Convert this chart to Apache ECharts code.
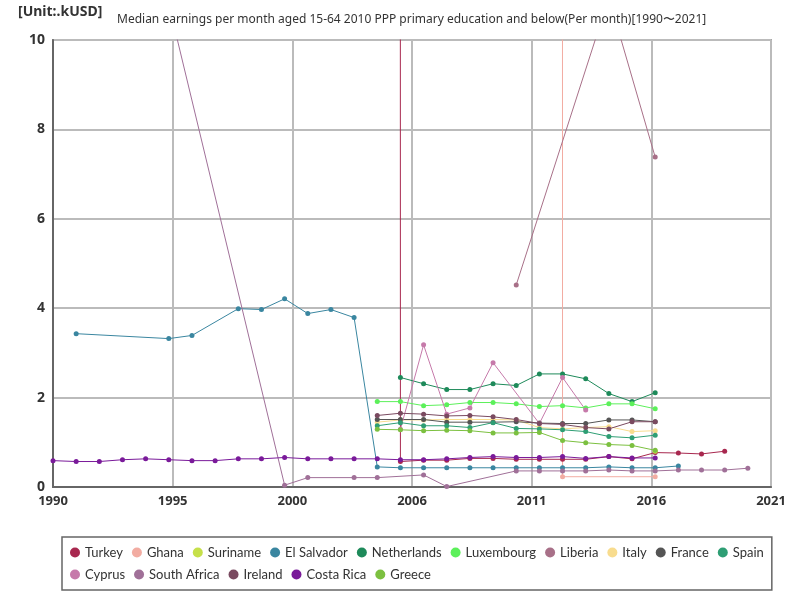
<!DOCTYPE html>
<html>
<head>
<meta charset="utf-8">
<script src="https://cdn.jsdelivr.net/npm/echarts@6/dist/echarts.min.js"></script>
<style>
  html, body { margin: 0; padding: 0; background: #fff; }
  #chart { width: 800px; height: 600px; }
</style>
</head>
<body>
<div id="chart"></div>
<script>
// years / values per country (kUSD per month)
const turkeyYears = [2004, 2005, 2006, 2007, 2008, 2009, 2010, 2011, 2012, 2013, 2014, 2015, 2016, 2017, 2018, 2019];
const turkeyValues = [3000, 0.57, 0.60, 0.60, 0.64, 0.64, 0.62, 0.62, 0.62, 0.62, 0.68, 0.63, 0.77, 0.76, 0.74, 0.80];

const ghanaYears = [2011, 2012, 2016];
const ghanaValues = [3000, 0.23, 0.23];

const surinameYears = [2016];
const surinameValues = [0.80];

const elSalvadorYears = [1991, 1995, 1996, 1998, 1999, 2000, 2001, 2002, 2003, 2004, 2005, 2006, 2007, 2008, 2009, 2010, 2011, 2012, 2013, 2014, 2015, 2016, 2017];
const elSalvadorValues = [3.43, 3.32, 3.39, 3.99, 3.97, 4.21, 3.88, 3.97, 3.79, 0.45, 0.43, 0.43, 0.43, 0.43, 0.43, 0.43, 0.43, 0.43, 0.43, 0.45, 0.43, 0.43, 0.47];

const netherlandsYears = [2005, 2006, 2007, 2008, 2009, 2010, 2011, 2012, 2013, 2014, 2015, 2016];
const netherlandsValues = [2.45, 2.31, 2.18, 2.18, 2.31, 2.27, 2.53, 2.53, 2.42, 2.09, 1.91, 2.11];

const luxembourgYears = [2004, 2005, 2006, 2007, 2008, 2009, 2010, 2011, 2012, 2013, 2014, 2015, 2016];
const luxembourgValues = [1.91, 1.91, 1.82, 1.84, 1.89, 1.89, 1.86, 1.80, 1.82, 1.77, 1.86, 1.86, 1.75];

const liberiaYears = [2010, 2014, 2016];
const liberiaValues = [4.52, 10.95, 7.38];

const italyYears = [2004, 2005, 2006, 2007, 2008, 2009, 2010, 2011, 2012, 2013, 2014, 2015, 2016];
const italyValues = [1.45, 1.50, 1.50, 1.51, 1.51, 1.51, 1.50, 1.33, 1.30, 1.33, 1.35, 1.24, 1.26];

const franceYears = [2004, 2005, 2006, 2007, 2008, 2009, 2010, 2011, 2012, 2013, 2014, 2015, 2016];
const franceValues = [1.51, 1.51, 1.51, 1.45, 1.45, 1.45, 1.46, 1.43, 1.42, 1.42, 1.50, 1.50, 1.46];

const spainYears = [2004, 2005, 2006, 2007, 2008, 2009, 2010, 2011, 2012, 2013, 2014, 2015, 2016];
const spainValues = [1.37, 1.44, 1.37, 1.37, 1.33, 1.44, 1.31, 1.30, 1.28, 1.24, 1.13, 1.10, 1.16];

const cyprusYears = [2005, 2006, 2007, 2008, 2009, 2011, 2012, 2013];
const cyprusValues = [1.29, 3.18, 1.63, 1.77, 2.78, 1.42, 2.45, 1.72];

const southAfricaYears = [1995, 2000, 2001, 2003, 2004, 2006, 2007, 2010, 2011, 2012, 2013, 2014, 2015, 2016, 2017, 2018, 2019, 2020];
const southAfricaValues = [10.8, 0.04, 0.21, 0.21, 0.21, 0.27, 0.01, 0.36, 0.36, 0.36, 0.36, 0.38, 0.36, 0.36, 0.38, 0.38, 0.38, 0.42];

const irelandYears = [2004, 2005, 2006, 2007, 2008, 2009, 2010, 2011, 2012, 2013, 2014, 2015, 2016];
const irelandValues = [1.60, 1.65, 1.63, 1.59, 1.60, 1.57, 1.51, 1.42, 1.40, 1.33, 1.30, 1.46, 1.46];

const costaRicaYears = [1990, 1991, 1992, 1993, 1994, 1995, 1996, 1997, 1998, 1999, 2000, 2001, 2002, 2003, 2004, 2005, 2006, 2007, 2008, 2009, 2010, 2011, 2012, 2013, 2014, 2015, 2016];
const costaRicaValues = [0.59, 0.57, 0.57, 0.61, 0.63, 0.61, 0.59, 0.59, 0.63, 0.63, 0.66, 0.63, 0.63, 0.63, 0.63, 0.61, 0.61, 0.63, 0.66, 0.68, 0.66, 0.66, 0.68, 0.64, 0.68, 0.65, 0.65];

const greeceYears = [2004, 2005, 2006, 2007, 2008, 2009, 2010, 2011, 2012, 2013, 2014, 2015, 2016];
const greeceValues = [1.29, 1.28, 1.26, 1.27, 1.26, 1.21, 1.21, 1.22, 1.04, 0.99, 0.95, 0.93, 0.82];

const yTicks = [0, 2, 4, 6, 8, 10];

const seriesList = [
    { name: 'Turkey', years: turkeyYears, values: turkeyValues, color: '#a8284f' },
    { name: 'Ghana', years: ghanaYears, values: ghanaValues, color: '#f2aca2' },
    { name: 'Suriname', years: surinameYears, values: surinameValues, color: '#c6e04a' },
    { name: 'El Salvador', years: elSalvadorYears, values: elSalvadorValues, color: '#3a86a0' },
    { name: 'Netherlands', years: netherlandsYears, values: netherlandsValues, color: '#1e8a5a' },
    { name: 'Luxembourg', years: luxembourgYears, values: luxembourgValues, color: '#5cf05a' },
    { name: 'Liberia', years: liberiaYears, values: liberiaValues, color: '#a87088' },
    { name: 'Italy', years: italyYears, values: italyValues, color: '#f8dc8e' },
    { name: 'France', years: franceYears, values: franceValues, color: '#555555' },
    { name: 'Spain', years: spainYears, values: spainValues, color: '#2e9e74' },
    { name: 'Cyprus', years: cyprusYears, values: cyprusValues, color: '#c67aaa' },
    { name: 'South Africa', years: southAfricaYears, values: southAfricaValues, color: '#a07098' },
    { name: 'Ireland', years: irelandYears, values: irelandValues, color: '#7a4a60' },
    { name: 'Costa Rica', years: costaRicaYears, values: costaRicaValues, color: '#7a1a9a' },
    { name: 'Greece', years: greeceYears, values: greeceValues, color: '#7cc040' }
];

const chart = echarts.init(document.getElementById('chart'));

chart.setOption({
    animation: false,
    color: seriesList.map(s => s.color),
    textStyle: { fontFamily: 'Noto Sans' },
    title: [
        {
            text: '[Unit:.kUSD]',
            left: 13, top: 0,
            textStyle: { fontSize: 14, fontWeight: 'bold', color: '#333' }
        },
        {
            text: 'Median earnings per month aged 15-64 2010 PPP primary education and below(Per month)[1990\u301c2021]',
            left: 112, top: 9,
            textStyle: { fontSize: 12, fontWeight: 'normal', color: '#333' }
        }
    ],
    grid: {
        left: 53, right: 29, top: 40, bottom: 113,
        show: true, borderColor: '#666', borderWidth: 1.5
    },
    legend: {
        left: 62, top: 537, width: 700,
        padding: [9, 8, 9, 8],
        borderColor: '#666', borderWidth: 1.5,
        icon: 'circle', itemWidth: 10, itemHeight: 10, itemGap: 9,
        textStyle: { fontSize: 13, color: '#333', fontFamily: 'Lato' },
        data: seriesList.map(s => s.name)
    },
    xAxis: {
        type: 'value',
        min: 1990, max: 2021, interval: 31 / 6,
        axisLine: { lineStyle: { color: '#666', width: 2 } },
        axisTick: { show: false },
        splitLine: { lineStyle: { color: '#bbb', width: 2 } },
        axisLabel: {
            fontSize: 13, fontWeight: 'bold', color: '#333',
            formatter: v => String(Math.round(v))
        }
    },
    yAxis: {
        type: 'value',
        min: yTicks[0], max: yTicks[yTicks.length - 1], interval: 2,
        axisLine: { show: true, lineStyle: { color: '#666', width: 2 } },
        axisTick: { show: false },
        splitLine: { lineStyle: { color: '#bbb', width: 2 } },
        axisLabel: { fontSize: 14, fontWeight: 'bold', color: '#333' }
    },
    series: seriesList.map(s => ({
        name: s.name,
        type: 'line',
        symbol: 'circle',
        symbolSize: 5,
        clip: true,
        lineStyle: { width: 1 },
        data: s.years.map((y, i) => [y, s.values[i]])
    }))
});
</script>
</body>
</html>
